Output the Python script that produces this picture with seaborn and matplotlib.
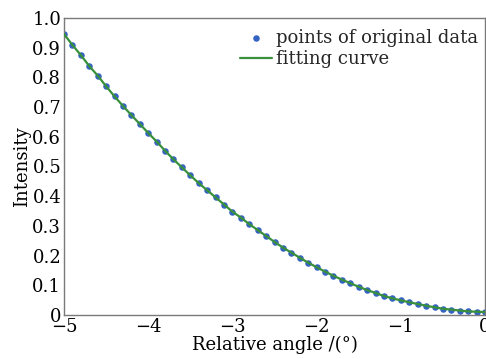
import matplotlib
matplotlib.use("Agg")
import matplotlib.pyplot as plt
import seaborn as sns
import pandas as pd

angles = [-5.0, -4.9, -4.8, -4.7, -4.6, -4.5, -4.4, -4.3, -4.2, -4.1,
          -4.0, -3.9, -3.8, -3.7, -3.6, -3.5, -3.4, -3.3, -3.2, -3.1,
          -3.0, -2.9, -2.8, -2.7, -2.6, -2.5, -2.4, -2.3, -2.2, -2.1,
          -2.0, -1.9, -1.8, -1.7, -1.6, -1.5, -1.4, -1.3, -1.2, -1.1,
          -1.0, -0.9, -0.8, -0.7, -0.6, -0.5, -0.4, -0.3, -0.2, -0.1, 0.0]
intensity = [0.946, 0.909, 0.875, 0.838, 0.806, 0.770, 0.736, 0.704, 0.673, 0.643,
             0.613, 0.584, 0.553, 0.524, 0.497, 0.470, 0.444, 0.420, 0.396, 0.372,
             0.348, 0.328, 0.306, 0.286, 0.266, 0.246, 0.227, 0.210, 0.193, 0.176,
             0.161, 0.146, 0.132, 0.119, 0.107, 0.095, 0.084, 0.074, 0.064, 0.056,
             0.049, 0.043, 0.037, 0.031, 0.026, 0.021, 0.018, 0.015, 0.012, 0.011, 0.010]
xticks = [-5, -4, -3, -2, -1, 0]
xtick_labels = ["\u22125", "\u22124", "\u22123", "\u22122", "\u22121", "0"]
yticks = [0, 0.1, 0.2, 0.3, 0.4, 0.5, 0.6, 0.7, 0.8, 0.9, 1.0]
ytick_labels = ["0", "0.1", "0.2", "0.3", "0.4", "0.5", "0.6", "0.7", "0.8", "0.9", "1.0"]

df = pd.DataFrame({"angle": angles, "intensity": intensity})

sns.set_theme(style="white")
plt.rcParams["font.family"] = ["DejaVu Serif"]

fig = plt.figure(figsize=(4.86, 3.59), dpi=100)
ax = fig.add_axes([0.1317, 0.1226, 0.8663, 0.8273])

sns.scatterplot(data=df, x="angle", y="intensity", ax=ax, color="#3563c3",
                s=22, linewidth=0, label="points of original data", zorder=2)
sns.lineplot(data=df, x="angle", y="intensity", ax=ax, color="#38903a",
             linewidth=1.6, label="fitting curve", zorder=3)

ax.set_xlim(-5, 0)
ax.set_ylim(0, 1.0)
ax.set_xticks(xticks)
ax.set_xticklabels(xtick_labels)
ax.set_yticks(yticks)
ax.set_yticklabels(ytick_labels)
ax.tick_params(axis="both", direction="in", length=4, width=0.8, color="#555555",
               labelsize=13, pad=2, labelcolor="black")
for sp in ax.spines.values():
    sp.set_color("#7a7a7a")
    sp.set_linewidth(1.0)

ax.set_xlabel("Relative angle /(\u00b0)", fontsize=13, labelpad=0, color="black")
ax.set_ylabel("Intensity", fontsize=13, labelpad=1, color="black")

leg = ax.legend(loc="upper right", bbox_to_anchor=(1.0095, 1.0), frameon=False,
                fontsize=13, handlelength=1.8, handletextpad=0.2,
                borderaxespad=0.5, labelspacing=0.2, borderpad=0.1)

fig.savefig("out.png", dpi=100)
